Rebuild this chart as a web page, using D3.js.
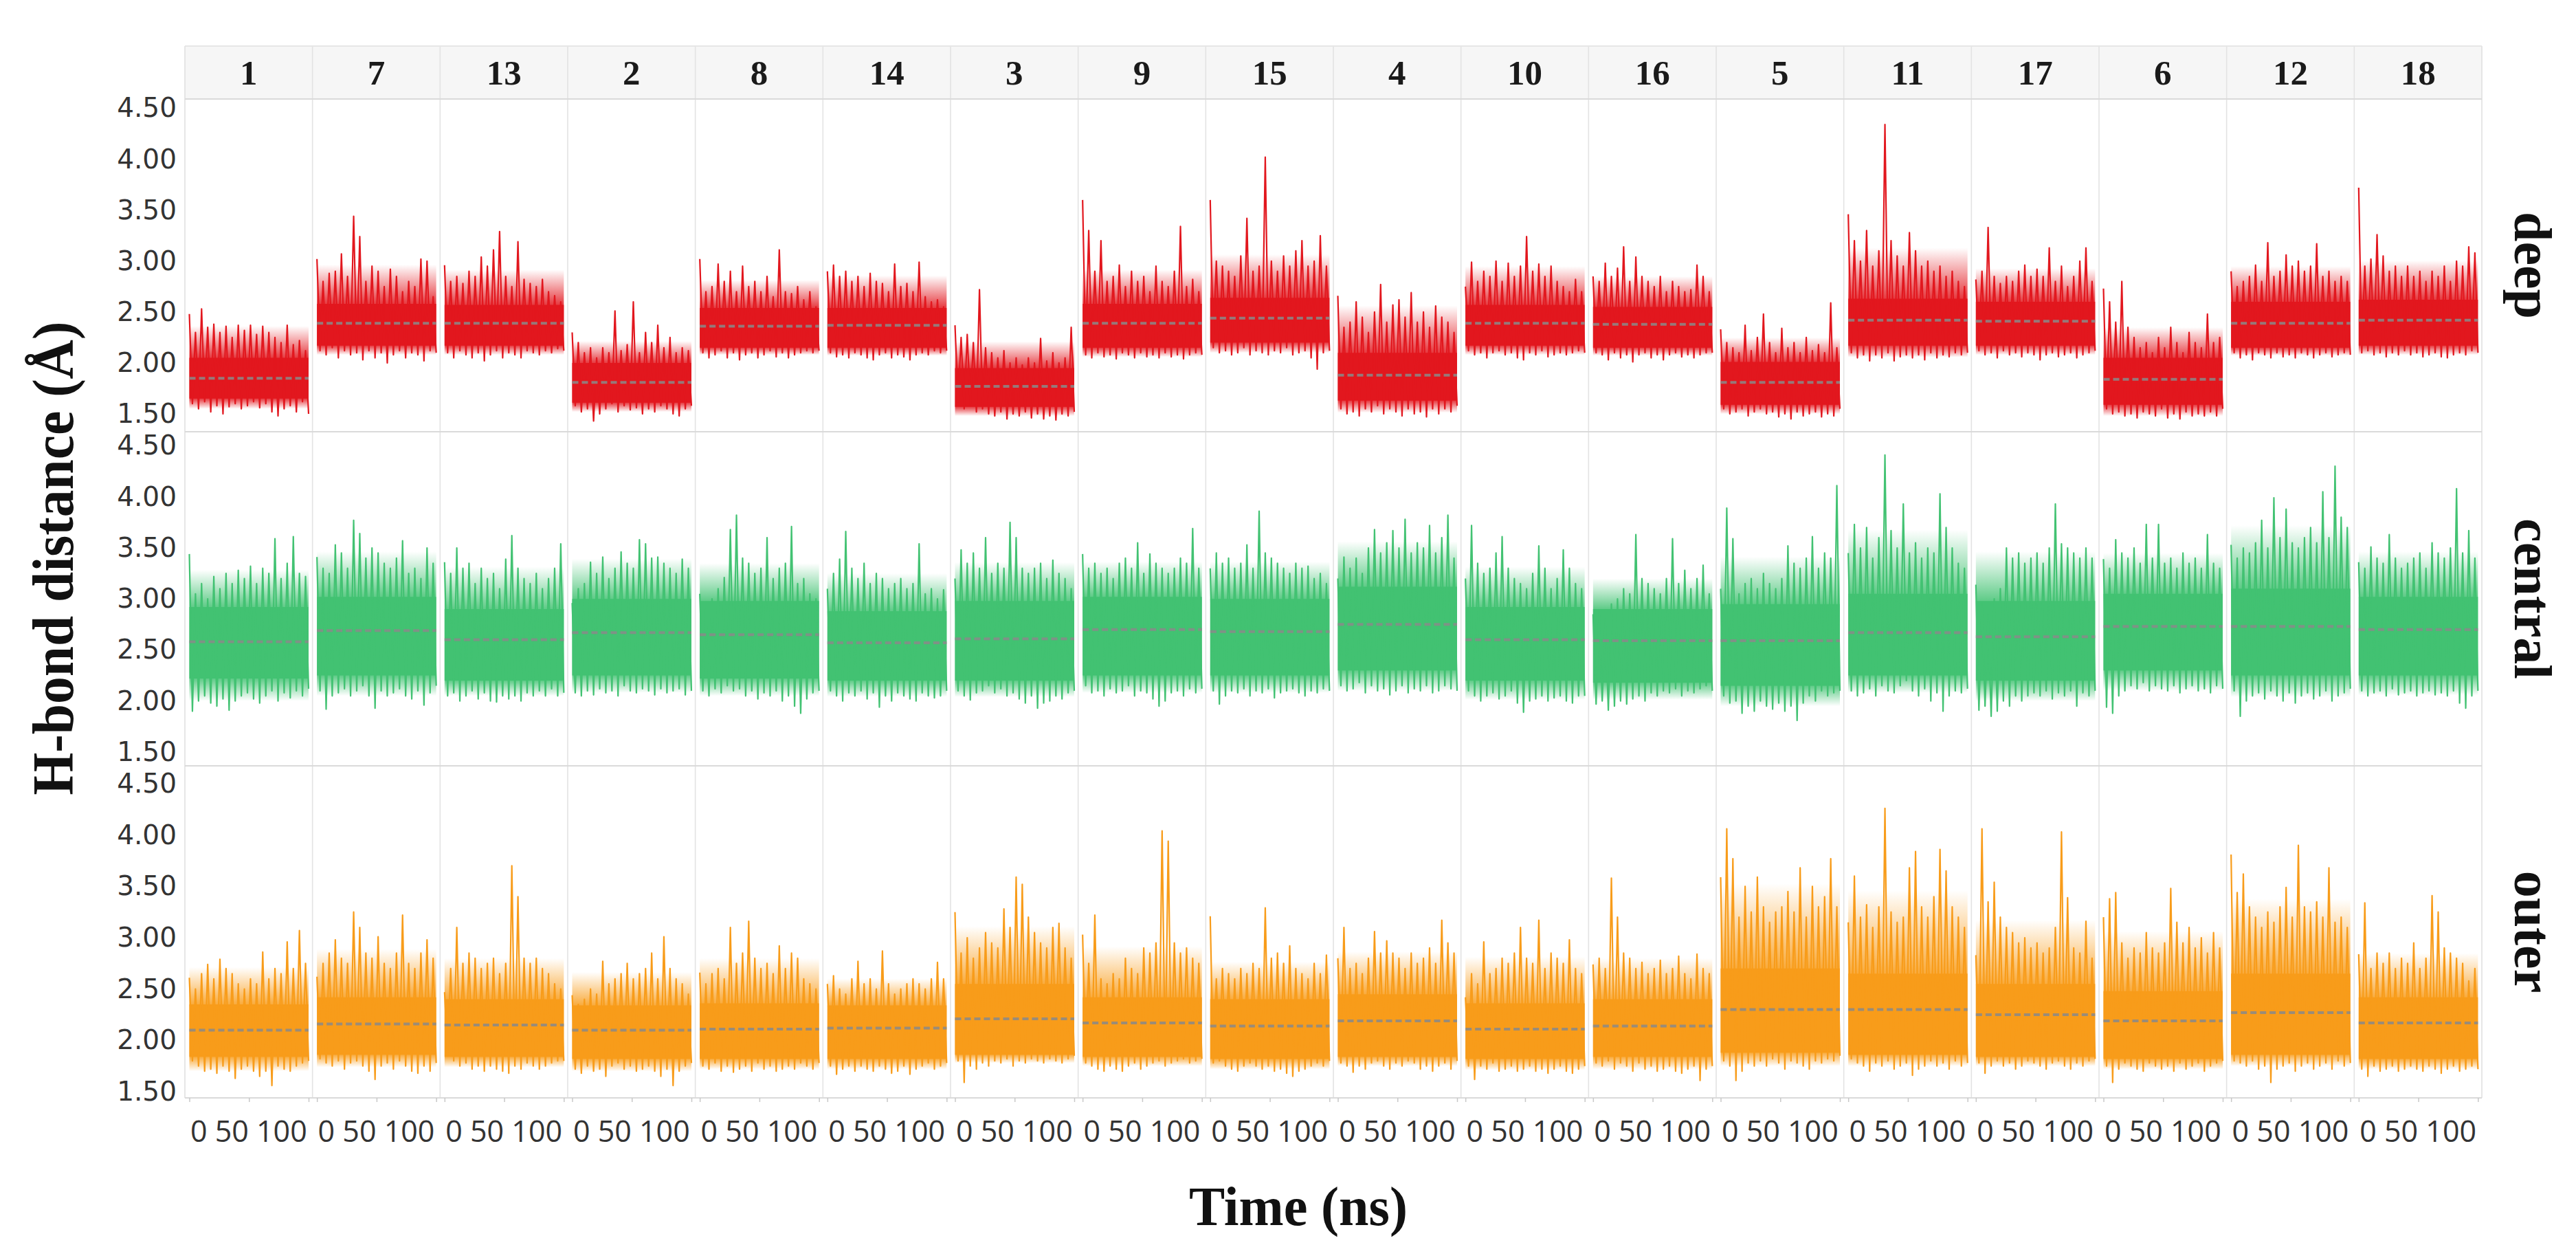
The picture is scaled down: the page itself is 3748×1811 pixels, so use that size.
<!DOCTYPE html>
<html><head><meta charset="utf-8">
<script src="https://cdn.jsdelivr.net/npm/d3@7"></script>
<style>body{margin:0;background:#fff}svg{display:block}</style>
</head><body>
<svg id="chart" width="3748" height="1811"></svg>
<script>
// ---------- data ----------
const columns = ["1","7","13","2","8","14","3","9","15","4","10","16","5","11","17","6","12","18"];
const rowNames = ["deep","central","outer"];
const yTicks = [1.5,2.0,2.5,3.0,3.5,4.0,4.5];
const xTicks = [0,50,100];
const rowDomains = [[1.325,4.591],[1.365,4.638],[1.44,4.674]];

const deepMean = [1.85,2.39,2.39,1.81,2.36,2.37,1.77,2.39,2.44,1.88,2.39,2.38,1.81,2.42,2.41,1.84,2.39,2.42];
const deepCoreLo = [1.65,2.17,2.17,1.61,2.15,2.15,1.57,2.15,2.20,1.63,2.17,2.15,1.59,2.17,2.17,1.59,2.15,2.17];
const deepCoreHi = [2.05,2.58,2.57,2.00,2.54,2.54,1.95,2.58,2.64,2.10,2.57,2.55,2.01,2.63,2.60,2.05,2.60,2.62];
const deepHi = [
[2.48,2.30,2.53,2.35,2.38,2.30,2.36,2.25,2.37,2.32,2.37,2.28,2.36,2.30,2.25,2.20,2.37,2.18,2.22,2.12],
[3.02,2.80,2.88,2.90,3.07,2.85,3.44,3.24,2.80,2.95,2.90,2.75,2.92,2.85,2.70,2.80,2.75,3.02,3.00,2.65],
[2.96,2.80,2.85,2.78,2.90,2.85,3.04,2.95,3.11,3.29,2.85,2.75,3.19,2.82,2.78,2.75,2.82,2.70,2.66,2.60],
[2.30,2.20,2.10,2.15,2.05,2.15,2.10,2.51,2.12,2.18,2.60,2.10,2.30,2.20,2.37,2.15,2.25,2.10,2.15,2.12],
[3.02,2.70,2.75,2.97,2.80,2.90,2.70,2.95,2.75,2.80,2.70,2.85,2.65,3.11,2.70,2.68,2.75,2.62,2.70,2.55],
[2.90,2.96,2.85,2.90,2.80,2.85,2.75,2.88,2.80,2.78,2.70,2.97,2.75,2.78,2.70,2.99,2.65,2.60,2.62,2.55],
[2.37,2.25,2.28,2.20,2.72,2.15,2.10,2.05,2.12,2.00,2.05,1.98,2.05,2.00,2.24,2.02,2.10,2.00,2.05,2.35],
[3.60,3.30,2.90,3.20,2.80,2.85,2.96,2.75,2.90,2.80,2.85,2.70,2.95,2.80,2.75,2.90,3.34,2.75,2.82,2.70],
[3.60,3.00,2.95,2.90,2.85,3.05,3.42,2.90,2.95,4.02,3.00,2.90,3.05,2.95,3.10,3.20,2.95,3.00,3.25,2.95],
[2.66,2.35,2.40,2.60,2.45,2.30,2.50,2.77,2.40,2.57,2.62,2.45,2.69,2.40,2.50,2.35,2.56,2.45,2.40,2.30],
[2.75,2.99,2.80,2.90,2.85,3.00,2.80,2.98,2.85,2.95,3.24,2.90,2.97,2.85,2.95,2.80,2.75,2.70,2.82,2.70],
[2.85,2.80,2.98,2.85,2.93,3.14,2.80,3.04,2.85,2.80,2.75,2.85,2.70,2.80,2.75,2.70,2.72,2.96,2.85,2.70],
[2.33,2.20,2.15,2.10,2.37,2.12,2.25,2.48,2.20,2.10,2.34,2.15,2.20,2.10,2.25,2.12,2.18,2.10,2.59,2.15],
[3.46,3.20,3.00,3.30,2.95,3.10,4.34,3.20,3.05,2.95,3.28,3.10,2.95,3.00,2.90,2.95,2.85,2.90,2.80,2.75],
[2.82,2.90,3.33,2.85,2.78,2.85,2.80,2.90,2.96,2.85,2.92,2.85,3.13,2.80,2.95,2.75,2.85,3.00,3.13,2.80],
[2.73,2.60,2.40,2.80,2.35,2.25,2.15,2.20,2.10,2.25,2.15,2.35,2.20,2.10,2.30,2.20,2.15,2.48,2.20,2.25],
[2.90,2.75,2.80,2.85,2.96,2.80,3.18,2.85,2.90,3.06,2.95,3.00,2.90,2.95,3.17,2.85,2.90,2.80,2.85,2.80],
[3.72,2.95,3.02,3.26,3.05,2.90,2.95,2.85,2.95,2.85,2.90,2.80,2.90,2.85,2.95,2.80,3.00,2.95,3.14,3.08]];
const deepLo = [
[1.60,1.55,1.62,1.52,1.58,1.50,1.57,1.60,1.55,1.58,1.62,1.56,1.60,1.52,1.48,1.55,1.58,1.52,1.62,1.50],
[2.12,2.08,2.15,2.05,2.12,2.08,2.10,2.03,2.12,2.05,2.10,2.00,2.08,2.12,2.05,2.10,2.08,2.02,2.12,2.10],
[2.10,2.05,2.12,2.08,2.05,2.10,2.02,2.08,2.12,2.05,2.10,2.08,2.05,2.12,2.10,2.08,2.12,2.10,2.14,2.12],
[1.58,1.52,1.55,1.43,1.50,1.55,1.60,1.52,1.58,1.54,1.56,1.50,1.55,1.52,1.58,1.55,1.50,1.48,1.55,1.58],
[2.10,2.05,2.08,2.12,2.05,2.10,2.03,2.08,2.10,2.05,2.08,2.12,2.06,2.10,2.05,2.08,2.10,2.12,2.10,2.12],
[2.10,2.06,2.08,2.05,2.10,2.08,2.05,2.03,2.08,2.10,2.05,2.08,2.06,2.03,2.08,2.10,2.08,2.12,2.10,2.12],
[1.62,1.55,1.58,1.52,1.55,1.50,1.48,1.52,1.45,1.50,1.48,1.52,1.46,1.50,1.45,1.48,1.44,1.50,1.48,1.52],
[2.08,2.05,2.10,2.06,2.08,2.04,2.10,2.08,2.05,2.10,2.06,2.08,2.05,2.10,2.06,2.08,2.04,2.08,2.10,2.08],
[2.15,2.10,2.12,2.08,2.10,2.15,2.08,2.12,2.10,2.08,2.12,2.10,2.15,2.08,2.10,2.12,2.05,1.94,2.10,2.12],
[1.55,1.50,1.52,1.48,1.55,1.52,1.58,1.50,1.55,1.52,1.48,1.55,1.50,1.52,1.47,1.55,1.50,1.55,1.52,1.58],
[2.12,2.08,2.10,2.05,2.10,2.12,2.08,2.10,2.05,2.03,2.10,2.08,2.12,2.06,2.08,2.10,2.08,2.10,2.12,2.10],
[2.10,2.08,2.03,2.10,2.05,2.08,2.01,2.08,2.10,2.05,2.08,2.03,2.08,2.10,2.06,2.08,2.05,2.08,2.10,2.10],
[1.55,1.50,1.52,1.55,1.48,1.52,1.55,1.50,1.52,1.47,1.50,1.45,1.52,1.48,1.50,1.52,1.47,1.50,1.48,1.55],
[2.10,2.05,2.08,2.02,2.08,2.05,2.10,2.02,2.06,2.08,2.05,2.08,2.03,2.10,2.05,2.08,2.06,2.10,2.08,2.10],
[2.12,2.08,2.10,2.05,2.12,2.08,2.10,2.06,2.10,2.08,2.03,2.08,2.10,2.06,2.08,2.10,2.05,2.08,2.10,2.12],
[1.55,1.50,1.52,1.48,1.50,1.46,1.52,1.50,1.48,1.55,1.46,1.50,1.45,1.52,1.48,1.50,1.48,1.52,1.48,1.55],
[2.10,2.05,2.08,2.03,2.10,2.08,2.05,2.10,2.06,2.08,2.05,2.10,2.08,2.05,2.08,2.10,2.06,2.08,2.10,2.08],
[2.10,2.12,2.08,2.10,2.06,2.10,2.08,2.12,2.08,2.10,2.06,2.08,2.10,2.06,2.05,2.08,2.10,2.08,2.12,2.10]];

const centralMean = [2.58,2.69,2.60,2.67,2.65,2.57,2.61,2.70,2.68,2.75,2.60,2.59,2.59,2.67,2.63,2.73,2.73,2.70];
const centralCoreLo = [2.22,2.25,2.20,2.25,2.22,2.20,2.20,2.25,2.25,2.30,2.20,2.18,2.15,2.25,2.20,2.30,2.25,2.25];
const centralCoreHi = [2.92,3.02,2.90,3.00,2.98,2.88,2.98,3.02,3.00,3.12,2.92,2.90,2.95,3.05,2.98,3.05,3.10,3.02];
const centralHi = [
[3.44,3.05,3.15,3.00,3.22,3.10,3.25,3.15,3.28,3.20,3.32,3.15,3.30,3.25,3.59,3.20,3.35,3.61,3.25,3.22],
[3.41,3.30,3.25,3.53,3.45,3.30,3.77,3.64,3.40,3.50,3.45,3.35,3.30,3.40,3.57,3.25,3.30,3.20,3.50,3.35],
[3.36,3.25,3.50,3.30,3.35,3.15,3.30,3.20,3.25,3.10,3.39,3.62,3.30,3.20,3.15,3.25,3.10,3.20,3.30,3.54],
[2.96,3.10,3.15,3.36,3.25,3.41,3.20,3.30,3.46,3.35,3.30,3.58,3.54,3.40,3.41,3.35,3.30,3.25,3.39,3.30],
[3.05,2.90,3.00,3.10,3.21,3.68,3.82,3.40,3.35,3.25,3.30,3.60,3.20,3.30,3.35,3.71,3.15,3.20,3.05,3.00],
[3.10,3.25,3.39,3.66,3.30,3.20,3.35,3.15,3.25,3.20,3.10,3.15,3.20,3.10,3.15,3.54,3.05,3.10,3.00,3.09],
[3.20,3.48,3.35,3.45,3.30,3.60,3.25,3.35,3.30,3.75,3.60,3.30,3.25,3.30,3.35,3.20,3.38,3.25,3.20,3.10],
[3.44,3.30,3.35,3.25,3.30,3.20,3.35,3.40,3.30,3.55,3.25,3.44,3.35,3.30,3.25,3.30,3.40,3.35,3.69,3.30],
[3.30,3.45,3.35,3.40,3.30,3.35,3.53,3.30,3.86,3.45,3.40,3.35,3.30,3.25,3.35,3.30,3.32,3.20,3.25,3.15],
[3.20,3.41,3.30,3.40,3.25,3.50,3.68,3.45,3.55,3.67,3.50,3.78,3.45,3.55,3.50,3.72,3.45,3.60,3.82,3.40],
[3.20,3.72,3.35,3.25,3.30,3.45,3.61,3.30,3.20,3.15,3.10,3.25,3.52,3.30,3.10,3.20,3.48,3.30,3.15,3.10],
[2.85,2.89,2.80,2.95,3.00,3.10,3.05,3.63,3.20,3.15,3.10,3.05,3.20,3.59,3.15,3.28,3.10,3.20,3.33,3.05],
[3.10,3.89,3.59,3.05,3.15,3.20,3.10,3.25,3.15,3.10,3.20,3.52,3.35,3.30,3.40,3.61,3.30,3.45,3.40,4.11],
[3.45,3.73,3.50,3.70,3.40,3.60,4.41,3.67,3.50,3.93,3.45,3.55,3.40,3.50,3.45,4.03,3.70,3.50,3.35,3.30],
[3.14,2.95,2.85,3.00,3.10,3.50,3.40,3.45,3.35,3.40,3.45,3.35,3.50,3.93,3.54,3.50,3.45,3.40,3.50,3.40],
[3.39,3.30,3.58,3.45,3.40,3.50,3.35,3.73,3.40,3.73,3.35,3.40,3.30,3.45,3.35,3.40,3.30,3.63,3.35,3.30],
[3.53,3.40,3.50,3.45,3.55,3.77,3.50,3.99,3.60,3.88,3.55,3.50,3.60,3.70,3.55,4.05,3.60,4.30,3.80,3.70],
[3.36,3.30,3.51,3.40,3.35,3.63,3.40,3.30,3.35,3.40,3.45,3.30,3.55,3.45,3.40,3.50,4.08,3.45,3.67,3.40]];
const centralLo = [
[1.90,2.00,2.05,1.98,1.95,2.02,1.91,2.00,2.05,2.08,2.02,1.98,2.05,2.10,2.00,2.08,2.03,2.10,2.05,2.12],
[2.10,1.92,2.05,2.08,2.12,2.05,2.10,2.15,2.05,1.93,2.10,2.05,2.08,2.12,2.05,2.02,2.10,1.96,2.08,2.15],
[2.05,2.08,2.00,2.05,2.10,2.02,2.08,2.00,1.99,2.05,2.02,2.05,2.00,2.08,2.05,2.10,2.05,2.12,2.05,2.08],
[2.08,2.05,2.10,2.06,2.12,2.08,2.10,2.05,2.15,2.10,2.08,2.12,2.10,2.06,2.12,2.08,2.10,2.12,2.06,2.10],
[2.10,2.05,2.12,2.08,2.15,2.10,2.12,2.05,2.10,2.02,2.08,2.05,2.10,2.00,2.05,1.95,1.88,2.02,2.08,2.10],
[2.10,2.05,2.00,2.08,2.05,2.10,2.02,2.08,1.94,2.05,2.00,2.08,2.05,2.02,2.00,2.08,2.05,2.03,2.05,2.10],
[2.10,2.05,2.01,2.08,2.10,2.15,2.08,2.12,2.05,2.08,2.02,1.98,2.05,1.93,1.98,2.00,2.05,2.02,2.08,2.10],
[2.15,2.08,2.10,2.05,2.12,2.08,2.10,2.15,2.05,2.10,2.08,2.02,1.95,2.00,2.08,2.10,2.05,2.12,2.08,2.12],
[2.10,1.97,2.05,2.10,2.08,2.12,2.05,2.10,2.08,2.12,2.03,2.08,2.10,2.12,2.08,2.05,2.10,2.08,2.12,2.10],
[2.15,2.10,2.12,2.18,2.08,2.15,2.10,2.12,2.06,2.10,2.15,2.08,2.12,2.10,2.15,2.08,2.10,2.15,2.12,2.10],
[2.10,2.05,2.00,2.05,2.08,2.02,2.05,2.10,1.98,1.89,2.00,2.02,2.05,2.00,2.03,2.05,2.00,1.98,2.05,2.05],
[1.97,2.00,1.91,1.95,2.00,1.97,2.02,2.05,2.00,2.08,2.05,2.10,2.08,2.12,2.05,2.10,2.08,2.12,2.15,2.10],
[2.05,1.98,2.00,1.88,1.95,1.90,2.00,1.95,1.92,1.98,1.90,1.95,1.81,1.98,2.05,2.00,2.10,2.05,2.08,2.10],
[2.10,2.05,2.08,2.12,2.05,2.15,2.10,2.08,2.15,2.20,2.10,2.05,2.12,2.00,2.08,1.90,2.05,2.10,2.08,2.12],
[1.91,1.95,1.85,1.90,2.00,1.95,2.05,2.00,2.05,2.08,2.05,2.10,2.02,2.08,2.05,2.10,1.95,2.08,2.05,2.10],
[1.94,1.88,2.05,2.10,2.15,2.12,2.18,2.10,2.15,2.12,2.10,2.15,2.08,2.12,2.15,2.10,2.12,2.08,2.15,2.12],
[2.10,1.85,2.00,2.05,2.08,2.02,2.10,2.05,2.00,2.08,1.98,2.05,2.08,2.02,2.05,2.10,2.00,2.05,2.08,2.12],
[2.10,2.05,2.08,2.10,2.05,2.12,2.06,2.08,2.10,2.05,2.08,2.10,2.06,2.08,2.05,2.10,1.98,1.93,2.05,2.10]];

const outerMean = [2.10,2.16,2.15,2.10,2.11,2.12,2.21,2.17,2.14,2.19,2.11,2.14,2.30,2.30,2.25,2.19,2.27,2.17];
const outerCoreLo = [1.84,1.86,1.84,1.82,1.82,1.82,1.86,1.84,1.82,1.84,1.82,1.84,1.88,1.86,1.84,1.82,1.86,1.82];
const outerCoreHi = [2.35,2.42,2.40,2.34,2.36,2.34,2.55,2.42,2.40,2.45,2.36,2.40,2.70,2.65,2.55,2.48,2.65,2.42];
const outerHi = [
[2.61,2.50,2.65,2.74,2.60,2.79,2.70,2.65,2.55,2.50,2.60,2.55,2.86,2.60,2.70,2.65,2.96,2.70,3.07,2.75],
[2.62,2.75,2.85,2.98,2.80,2.75,3.25,3.10,2.85,2.80,3.01,2.75,2.70,2.85,3.22,2.75,2.70,2.85,2.98,2.80],
[2.47,2.70,3.10,2.75,2.85,2.80,2.70,2.75,2.80,2.65,2.75,3.70,3.40,2.80,2.75,2.80,2.70,2.65,2.55,2.50],
[2.44,2.35,2.40,2.50,2.45,2.77,2.55,2.60,2.65,2.75,2.60,2.65,2.70,2.85,2.60,3.01,2.70,2.60,2.55,2.45],
[2.66,2.55,2.65,2.70,2.60,3.10,2.75,2.85,3.16,2.80,2.70,2.75,2.65,2.92,2.70,2.85,2.80,2.60,2.55,2.50],
[2.55,2.63,2.50,2.45,2.60,2.77,2.55,2.60,2.50,2.87,2.55,2.45,2.50,2.55,2.60,2.55,2.50,2.60,2.76,2.60],
[3.25,2.85,3.00,2.80,2.90,3.05,2.95,2.90,3.28,3.10,3.59,3.52,3.20,3.05,2.95,2.90,3.10,3.14,2.90,2.80],
[3.03,2.75,3.22,2.60,2.55,2.65,2.60,2.80,2.70,2.65,2.90,2.85,2.95,4.04,3.94,2.95,2.85,2.90,2.80,2.75],
[3.21,2.60,2.70,2.65,2.60,2.70,2.65,2.75,2.70,3.29,2.80,2.85,2.75,2.92,2.70,2.65,2.60,2.75,2.65,2.83],
[2.80,3.10,2.70,2.75,2.65,2.80,3.06,2.85,2.97,2.85,2.80,2.70,2.85,2.75,2.80,2.90,2.75,3.17,2.95,2.85],
[2.42,2.65,2.55,2.96,2.65,2.70,2.80,2.75,2.85,3.10,2.80,2.75,3.17,2.70,2.85,2.80,2.75,2.98,2.70,2.65],
[2.74,2.80,2.70,3.58,3.20,2.85,2.80,2.70,2.76,2.65,2.70,2.78,2.65,2.70,2.82,2.65,2.60,2.84,2.70,2.65],
[3.59,4.06,3.77,3.20,3.50,3.25,3.59,3.30,3.15,3.25,3.30,3.45,3.25,3.68,3.20,3.50,3.30,3.40,3.77,3.30],
[3.15,3.60,3.20,3.32,3.10,3.30,4.26,3.25,3.15,3.20,3.68,3.84,3.30,3.20,3.40,3.86,3.65,3.30,3.20,3.10],
[2.83,4.06,3.35,3.54,3.20,3.10,3.05,2.95,3.00,2.90,2.95,2.85,2.90,3.10,4.03,3.39,2.90,2.85,3.16,2.80],
[3.20,3.38,3.44,2.95,2.80,2.90,2.85,3.05,2.90,2.85,2.95,3.48,3.15,2.95,3.10,2.90,3.00,2.85,3.05,2.90],
[3.81,3.44,3.62,3.30,3.20,3.10,3.25,3.15,3.30,3.49,3.20,3.90,3.30,3.25,3.35,3.20,3.68,3.15,3.20,3.10],
[2.84,3.34,2.70,2.85,2.75,2.85,2.70,2.80,2.75,2.95,2.70,2.80,3.41,3.25,2.90,2.85,2.80,2.75,2.58,2.70]];
const outerLo = [
[1.80,1.75,1.70,1.72,1.68,1.75,1.70,1.63,1.72,1.75,1.70,1.65,1.70,1.56,1.75,1.72,1.70,1.75,1.78,1.80],
[1.82,1.78,1.75,1.80,1.72,1.78,1.80,1.75,1.70,1.62,1.75,1.78,1.72,1.80,1.75,1.70,1.68,1.75,1.70,1.78],
[1.85,1.80,1.75,1.78,1.72,1.75,1.70,1.75,1.72,1.70,1.68,1.75,1.72,1.78,1.75,1.72,1.75,1.78,1.80,1.80],
[1.72,1.68,1.75,1.70,1.72,1.65,1.75,1.78,1.72,1.75,1.70,1.72,1.75,1.70,1.65,1.72,1.56,1.70,1.75,1.78],
[1.75,1.72,1.78,1.70,1.75,1.69,1.72,1.75,1.70,1.78,1.72,1.75,1.70,1.72,1.75,1.72,1.78,1.75,1.72,1.78],
[1.75,1.67,1.72,1.75,1.70,1.75,1.72,1.70,1.75,1.72,1.68,1.70,1.75,1.67,1.72,1.75,1.78,1.72,1.75,1.78],
[1.80,1.59,1.75,1.72,1.78,1.75,1.80,1.78,1.82,1.75,1.80,1.78,1.82,1.80,1.78,1.82,1.80,1.78,1.82,1.85],
[1.78,1.75,1.72,1.70,1.75,1.72,1.70,1.75,1.78,1.72,1.75,1.78,1.80,1.75,1.78,1.80,1.82,1.78,1.80,1.82],
[1.78,1.80,1.75,1.72,1.70,1.75,1.78,1.75,1.72,1.75,1.70,1.72,1.68,1.65,1.70,1.72,1.75,1.78,1.75,1.80],
[1.78,1.75,1.69,1.75,1.72,1.78,1.80,1.75,1.72,1.78,1.75,1.80,1.78,1.72,1.75,1.70,1.75,1.78,1.72,1.80],
[1.75,1.62,1.75,1.72,1.78,1.70,1.72,1.75,1.70,1.72,1.75,1.70,1.72,1.68,1.72,1.75,1.70,1.68,1.72,1.75],
[1.78,1.75,1.80,1.72,1.78,1.75,1.70,1.78,1.72,1.75,1.70,1.72,1.75,1.70,1.68,1.72,1.75,1.61,1.72,1.75],
[1.80,1.75,1.61,1.70,1.78,1.75,1.80,1.75,1.82,1.78,1.72,1.80,1.78,1.75,1.72,1.80,1.78,1.82,1.80,1.85],
[1.82,1.78,1.75,1.70,1.78,1.75,1.80,1.72,1.75,1.78,1.66,1.72,1.75,1.80,1.75,1.78,1.72,1.80,1.75,1.78],
[1.78,1.68,1.75,1.80,1.75,1.78,1.72,1.75,1.80,1.78,1.75,1.72,1.78,1.80,1.75,1.72,1.78,1.75,1.80,1.82],
[1.75,1.59,1.72,1.78,1.75,1.72,1.70,1.78,1.75,1.72,1.75,1.70,1.78,1.72,1.75,1.78,1.70,1.75,1.78,1.80],
[1.80,1.78,1.75,1.80,1.72,1.75,1.59,1.72,1.75,1.78,1.70,1.75,1.78,1.72,1.75,1.78,1.72,1.80,1.75,1.78],
[1.72,1.65,1.75,1.70,1.72,1.75,1.70,1.72,1.75,1.72,1.70,1.75,1.72,1.68,1.72,1.75,1.70,1.72,1.75,1.72]];

const rowColors = ["#e2171e","#42c272","#f89c1a"];
const rowData = [
  {name:rowNames[0], mean:deepMean, coreLo:deepCoreLo, coreHi:deepCoreHi, hi:deepHi, lo:deepLo},
  {name:rowNames[1], mean:centralMean, coreLo:centralCoreLo, coreHi:centralCoreHi, hi:centralHi, lo:centralLo},
  {name:rowNames[2], mean:outerMean, coreLo:outerCoreLo, coreHi:outerCoreHi, hi:outerHi, lo:outerLo}
];

// ---------- layout ----------
const W = 3748, H = 1811;
const plotLeft = 269, plotRight = 3611;
const stripTop = 67;
const rowTops = [144, 628, 1114];
const rowBottoms = [628, 1114, 1597];
const serif = "'Liberation Serif','DejaVu Serif',serif";

const svg = d3.select("#chart");
const defs = svg.append("defs");
svg.append("rect").attr("width", W).attr("height", H).attr("fill", "#fff");

const colBand = d3.scaleBand().domain(columns).range([plotLeft, plotRight]).padding(0);
const colW = colBand.bandwidth();

// header strip
svg.append("rect").attr("x", plotLeft).attr("y", stripTop)
  .attr("width", plotRight - plotLeft).attr("height", rowTops[0] - stripTop)
  .attr("fill", "#f6f6f6");

svg.selectAll("text.colhead").data(columns).join("text")
  .attr("class","colhead")
  .attr("x", d => colBand(d) + colW/2).attr("y", 123)
  .attr("text-anchor","middle")
  .attr("font-family", serif).attr("font-weight","bold").attr("font-size", 51)
  .attr("fill","#1a1a1a").text(d => d);

// grid
const gridG = svg.append("g");
columns.forEach((c, i) => {
  if (i === 0) return;
  gridG.append("line").attr("x1", colBand(c)).attr("x2", colBand(c))
    .attr("y1", stripTop).attr("y2", rowBottoms[2])
    .attr("stroke", "#e3e3e3").attr("stroke-width", 1.6);
});
[plotLeft, plotRight].forEach(x => gridG.append("line").attr("x1", x).attr("x2", x)
  .attr("y1", stripTop).attr("y2", rowBottoms[2]).attr("stroke", "#e0e0e0").attr("stroke-width", 1.6));
[stripTop, rowTops[0], rowTops[1], rowTops[2], rowBottoms[2]].forEach((y, i) => gridG.append("line")
  .attr("x1", plotLeft).attr("x2", plotRight).attr("y1", y).attr("y2", y)
  .attr("stroke", i === 0 ? "#e6e6e6" : "#dadada").attr("stroke-width", 2.2));

// panels
const line = d3.line();
rowData.forEach((row, r) => {
  const y = d3.scaleLinear().domain(rowDomains[r]).range([rowBottoms[r], rowTops[r]]);
  const color = rowColors[r];
  const g = svg.append("g");

  columns.forEach((c, ci) => {
    const x0 = colBand(c);
    const x = d3.scaleLinear().domain([0, 100]).range([x0 + 6.5, x0 + 180]);
    const hi = row.hi[ci], lo = row.lo[ci];
    const n = hi.length;
    const pts = [];
    hi.forEach((v, i) => {
      pts.push([x(i * 100 / (n - 0.5)), y(v)]);
      pts.push([x((i + 0.5) * 100 / (n - 0.5)), y(lo[i])]);
    });

    // soft density fall-off between the dense core and the typical extremes
    const hTyp = d3.quantile(hi, 0.7), lTyp = d3.quantile(lo, 0.35);
    const yTop = y(Math.max(hTyp, row.coreHi[ci] + 0.08));
    const yBot = y(Math.min(lTyp, row.coreLo[ci] - 0.04));
    const oHi = (y(row.coreHi[ci]) - yTop) / (yBot - yTop);
    const oLo = (y(row.coreLo[ci]) - yTop) / (yBot - yTop);
    const gid = `halo-${r}-${ci}`;
    const grad = defs.append("linearGradient").attr("id", gid)
      .attr("gradientUnits", "userSpaceOnUse")
      .attr("x1", 0).attr("x2", 0).attr("y1", yTop).attr("y2", yBot);
    [[0, 0], [oHi, 0.85], [oLo, 0.85], [1, 0]].forEach(([o, op]) =>
      grad.append("stop").attr("offset", Math.max(0, Math.min(1, o)))
        .attr("stop-color", color).attr("stop-opacity", op));
    g.append("rect").attr("x", x(0)).attr("width", x(100) - x(0))
      .attr("y", yTop).attr("height", yBot - yTop).attr("fill", `url(#${gid})`);

    // dense core band
    g.append("path")
      .attr("d", d3.area().x(d => x(d)).y0(y(row.coreLo[ci])).y1(y(row.coreHi[ci]))(xTicks))
      .attr("fill", color);
    // trace
    g.append("path").attr("d", line(pts))
      .attr("fill", "none").attr("stroke", color).attr("stroke-width", 2.2)
      .attr("stroke-linejoin", "round");
    // mean dashed line
    g.append("path").attr("d", line([[x(0), y(row.mean[ci])], [x(100), y(row.mean[ci])]]))
      .attr("stroke", "#8a8a8a").attr("stroke-opacity", 0.85)
      .attr("stroke-width", 4).attr("stroke-dasharray", "9,5").attr("fill", "none");

    // x axis ticks on the bottom row
    if (r === 2) {
      const ax = svg.append("g").attr("transform", `translate(0,${rowBottoms[2]})`)
        .call(d3.axisBottom(x).tickValues(xTicks).tickSize(6).tickFormat(""));
      ax.select(".domain").remove();
      ax.selectAll("line").attr("stroke", "#c8c8c8").attr("stroke-width", 1.5);
      svg.append("text").attr("x", x0 + colW/2).attr("y", 1661)
        .attr("text-anchor", "middle")
        .attr("font-family", "'Open Sans','Noto Sans',sans-serif").attr("font-size", 43)
        .attr("fill", "#333").text(xTicks.join(" "));
    }
  });

  // y axis
  const ay = svg.append("g").attr("transform", `translate(${plotLeft},0)`)
    .call(d3.axisLeft(y).tickValues(yTicks).tickSize(0).tickPadding(12).tickFormat(d3.format(".2f")));
  ay.select(".domain").remove();
  ay.selectAll("text").attr("font-family", "'DejaVu Sans',sans-serif").attr("font-size", 39).attr("fill", "#333");

  // row label
  svg.append("text")
    .attr("transform", `translate(3659,${(rowTops[r] + rowBottoms[r]) / 2}) rotate(90)`)
    .attr("text-anchor", "middle")
    .attr("font-family", serif).attr("font-weight", "bold").attr("font-size", 78)
    .attr("fill", "#111").text(row.name);
});

// axis titles
svg.append("text")
  .attr("transform", "translate(106,812) rotate(-90)")
  .attr("text-anchor", "middle")
  .attr("font-family", serif).attr("font-weight", "bold").attr("font-size", 84)
  .attr("textLength", 689).attr("lengthAdjust", "spacingAndGlyphs")
  .attr("fill", "#111").text("H-bond distance (Å)");

svg.append("text")
  .attr("x", 1889).attr("y", 1782)
  .attr("text-anchor", "middle")
  .attr("font-family", serif).attr("font-weight", "bold").attr("font-size", 80)
  .attr("textLength", 318).attr("lengthAdjust", "spacingAndGlyphs")
  .attr("fill", "#111").text("Time (ns)");
</script>
</body></html>
